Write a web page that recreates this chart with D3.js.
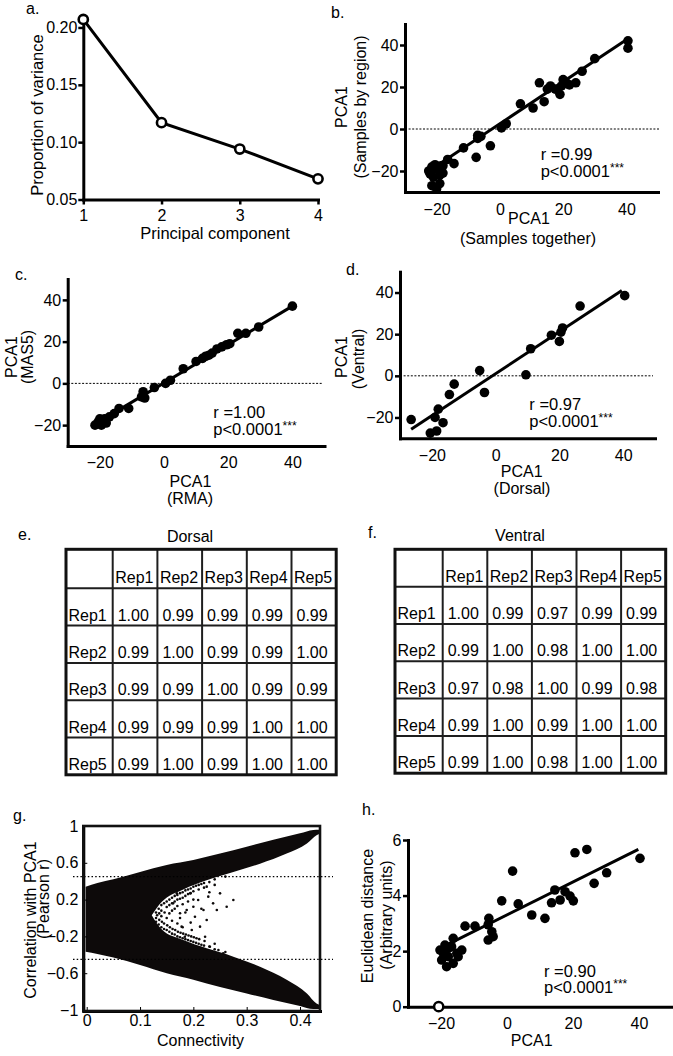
<!DOCTYPE html>
<html><head><meta charset="utf-8">
<script src="https://cdn.jsdelivr.net/npm/d3@7"></script>
<style>
body{margin:0;background:#fff;}
svg{display:block;}
</style></head><body>
<svg id="fig" width="673" height="1056"></svg>
<script>
// ---------------- DATA ----------------
// a. scree plot
const pcIndex = [1, 2, 3, 4];
const pcVariance = [0.207, 0.117, 0.094, 0.068];
const aYTicks = [0.05, 0.10, 0.15, 0.20];

// shared scatter ticks
const pcaTicks = [-20, 0, 20, 40];

// b. PCA1 samples together vs by region
const bTogether = [40.5, 40.5, 30, 26, 24, 20, 19.5, 19, 16, 15, 17.5, 12.5, 14, 10.5, 6.5, 2, 0.5, -3, -6, -7, -7, -7.5, -11.5, -14.5, -16.5, -18.5, -18, -22.5, -21.5, -20, -19, -19, -21.5, -20, -18, -20.5, -22, -21, 22, 21];
const bByRegion = [42, 38.5, 33.5, 27.5, 22, 23.5, 20.5, 16.5, 20.5, 19, 19, 22, 13, 10, 12, 2.5, 0.5, -8, -3.5, -4.5, -3, -13.5, -9, -16.5, -14.5, -17.5, -21, -20, -18, -19, -22, -26, -27, -28.5, -17.5, -17, -21.5, -23, 21, 22];
const bFitX = [-22, 40];
const bFitY = [-19.5, 42.5];

// c. PCA1 RMA vs MAS5
const cRMA = [40, 29.5, 25.5, 23, 19.5, 18, 16.5, 15, 13, 12, 10, 6, 2, 0.5, -3, -6.5, -7, -6, -11, -14, -15.5, -17, -18.5, -18, -20, -20.5, -21.5, -19.5, 20.5, 14];
const cMAS5 = [37, 27, 24, 24, 18.5, 17.5, 16.5, 14.5, 13, 12, 10.5, 7, 1.5, 0, -2, -4, -6.5, -7, -12, -12, -14.5, -16, -17, -19, -17, -18.5, -20, -20, 19, 13.5];
const cFitX = [-22, 40];
const cFitY = [-20, 37];

// d. PCA1 dorsal vs ventral
const dDorsal = [-26.5, -20.5, -18.5, -19, -18, -16.5, -14.5, -13, -5, -3.5, 9.5, 11, 17.5, 20, 21, 20.5, 26.5, 40.5];
const dVentral = [-21, -27.5, -26.5, -20, -16, -22.5, -9, -4, 2.5, -8, 0.5, 13, 19.5, 16.5, 23, 21, 33.5, 38.5];
const dFitX = [-26.5, 39.6];
const dFitY = [-25.7, 41];

// e/f. correlation tables
const reps = ["Rep1", "Rep2", "Rep3", "Rep4", "Rep5"];
const dorsalCorr = [
  [1.00, 0.99, 0.99, 0.99, 0.99],
  [0.99, 1.00, 0.99, 0.99, 1.00],
  [0.99, 0.99, 1.00, 0.99, 0.99],
  [0.99, 0.99, 0.99, 1.00, 1.00],
  [0.99, 1.00, 0.99, 1.00, 1.00]];
const ventralCorr = [
  [1.00, 0.99, 0.97, 0.99, 0.99],
  [0.99, 1.00, 0.98, 1.00, 1.00],
  [0.97, 0.98, 1.00, 0.99, 0.98],
  [0.99, 1.00, 0.99, 1.00, 1.00],
  [0.99, 1.00, 0.98, 1.00, 1.00]];

// g. connectivity vs correlation with PCA1 (cloud envelope)
const gConn      = [-0.002, 0.02, 0.05, 0.10, 0.15, 0.20, 0.25, 0.30, 0.35, 0.40, 0.425, 0.436];
const gTop       = [0.34, 0.38, 0.42, 0.50, 0.576, 0.63, 0.70, 0.775, 0.85, 0.92, 0.956, 0.96];
const gBottom    = [-0.366, -0.39, -0.43, -0.51, -0.60, -0.67, -0.75, -0.82, -0.89, -0.957, -0.99, -0.99];
const gGapConn   = [0.122, 0.14, 0.181, 0.225, 0.275, 0.325, 0.375, 0.413, 0.431, 0.446];
const gGapUpper  = [0.03, 0.17, 0.31, 0.41, 0.50, 0.59, 0.70, 0.81, 0.90, 0.93];
const gGapLower  = [0.03, -0.12, -0.24, -0.33, -0.42, -0.53, -0.67, -0.82, -0.93, -0.96];
// scattered genes inside the gap (connectivity, r)
const gSparse = [
  [0.13,0.06],[0.13,0.0],[0.13,-0.04],[0.132,0.03],
  [0.135,0.1],[0.135,-0.07],[0.136,0.05],[0.136,-0.02],
  [0.14,0.14],[0.14,0.08],[0.14,-0.1],[0.141,-0.04],[0.14,0.02],
  [0.145,0.16],[0.145,-0.12],[0.146,0.06],[0.145,-0.06],
  [0.15,0.18],[0.15,0.12],[0.15,-0.13],[0.151,-0.08],[0.15,0.0],
  [0.155,0.2],[0.155,0.14],[0.155,-0.15],[0.156,-0.1],[0.155,0.05],
  [0.16,0.22],[0.16,0.16],[0.16,-0.17],[0.161,-0.12],[0.16,0.08],[0.16,-0.03],
  [0.165,0.24],[0.165,0.18],[0.165,-0.18],[0.166,-0.13],[0.165,0.1],
  [0.17,0.25],[0.17,0.2],[0.17,-0.2],[0.171,-0.15],[0.17,0.13],[0.17,-0.06],
  [0.175,0.27],[0.175,0.21],[0.175,-0.21],[0.176,-0.16],[0.175,0.0],
  [0.18,0.28],[0.18,0.22],[0.18,-0.22],[0.181,-0.17],[0.18,0.15],[0.18,-0.1],
  [0.185,0.3],[0.185,0.24],[0.185,-0.23],[0.186,-0.18],[0.185,0.06],
  [0.19,0.31],[0.19,0.26],[0.19,-0.24],[0.191,-0.19],[0.19,0.18],
  [0.195,0.32],[0.195,0.27],[0.195,-0.25],[0.196,-0.2],[0.195,-0.05],
  [0.2,0.34],[0.2,0.29],[0.2,-0.26],[0.201,-0.21],[0.2,0.2],
  [0.205,0.35],[0.205,-0.27],[0.206,-0.22],
  [0.21,0.36],[0.21,0.31],[0.21,-0.28],[0.211,-0.23],
  [0.215,0.37],[0.215,-0.29],[0.215,0.1],
  [0.22,0.38],[0.22,0.33],[0.22,-0.3],[0.221,-0.25],
  [0.23,0.39],[0.23,-0.31],[0.23,0.28],
  [0.24,0.42],[0.24,0.36],[0.24,-0.34],[0.24,-0.28],
  [0.26,0.45],[0.26,-0.37],
  [0.162,0.159],[0.169,0.268],[0.175,0.051],[0.178,-0.094],[0.184,-0.203],[0.1875,0.087],
  [0.194,0.268],[0.197,-0.130],[0.200,0.123],[0.203,0.014],[0.209,0.196],[0.2125,-0.094],
  [0.219,0.087],[0.222,-0.203],[0.225,-0.022],[0.228,0.232],[0.231,-0.312],[0.237,0.159],
  [0.244,0.087],[0.247,-0.348],[0.250,0.268],[0.256,-0.384],[0.2625,0.123],[0.275,0.196],
  [0.237,-0.420],[0.250,-0.438],[0.225,0.341]];
const gYTicks = [1, 0.6, 0.2, -0.2, -0.6, -1];
const gYLabels = ["1", "0.6", "0.2", "\u22120.2", "\u22120.6", "\u22121"];
const gXTicks = [0, 0.1, 0.2, 0.3, 0.4];
const gXLabels = ["0", "0.1", "0.2", "0.3", "0.4"];
const gThreshold = [0.45, -0.45];

// h. PCA1 vs Euclidean distance
const hPCA1 = [40.3, 24.2, 20.6, 30.2, 26.4, 20.1, 19.1, 17.6, 16.1, 14.5, 13.5, 11.5, 7.5, 3.4, 1.7, -1.6, -4.6, -4.2, -5.5, -5.7, -5.7, -9.7, -12.7, -13.7, -14.8, -16.3, -16.8, -16.3, -17.8, -18.3, -19.3, -18.8, -20.3, -19.8, -17.8, -15.2];
const hDist = [5.34, 5.66, 5.54, 4.82, 4.44, 3.81, 3.98, 4.14, 3.84, 4.2, 3.74, 3.18, 3.3, 3.7, 4.88, 3.81, 2.7, 2.52, 3.18, 2.95, 2.4, 2.9, 2.9, 2.04, 1.8, 2.46, 2.16, 1.56, 1.8, 1.44, 1.92, 2.22, 2.04, 1.68, 2.1, 1.92];
const hOpenX = [-20.7];
const hOpenY = [0];
const hFitX = [-19.3, 39.8];
const hFitY = [2.16, 5.66];
const hYTicks = [0, 2, 4, 6];

// ---------------- DRAWING ----------------
const FF = '"Liberation Sans", Arial, Helvetica, sans-serif';
const FS = 16;
const svg = d3.select("#fig").attr("font-family", FF);

function addText(t, x, y, o = {}) {
  const el = svg.append("text").attr("x", x).attr("y", y).text(t)
    .attr("font-size", o.size || FS).attr("fill", "#000")
    .attr("text-anchor", o.anchor || "start");
  if (o.dy) el.attr("dy", o.dy);
  if (o.rotate) el.attr("transform", `rotate(-90,${x},${y})`);
  return el;
}
function styleAxis(g, w) {
  g.select(".domain").attr("stroke", "#000").attr("stroke-width", w || 3).attr("stroke-linecap", "square");
  g.selectAll(".tick line").attr("stroke", "#000").attr("stroke-width", 2.5);
  g.selectAll(".tick text").attr("font-size", FS).attr("fill", "#000").attr("font-family", FF);
}
function stats(x, yb1, yb2, rTxt) {
  addText(rTxt, x, yb1, { size: 16.5 });
  const t = addText("p<0.0001", x, yb2, { size: 16.5 });
  t.append("tspan").attr("font-size", 12).attr("dy", -5).text("***");
}

// ----- panel a -----
(function () {
  const x = d3.scaleLinear().domain([1, 4]).range([83.3, 318]);
  const y = d3.scaleLinear().domain([0.05, 0.21]).range([199.5, 16]);
  const ax = svg.append("g").attr("transform", `translate(0,${y(0.05)})`)
    .call(d3.axisBottom(x).tickValues(pcIndex).tickFormat(d3.format("d")).tickSize(5).tickPadding(5).tickSizeOuter(0));
  styleAxis(ax);
  const ay = svg.append("g").attr("transform", `translate(${x(1)},0)`)
    .call(d3.axisLeft(y).tickValues(aYTicks).tickFormat(d3.format(".2f")).tickSize(5).tickPadding(1).tickSizeOuter(0));
  styleAxis(ay);
  svg.append("path").datum(pcIndex)
    .attr("d", d3.line().x(d => x(d)).y((d, i) => y(pcVariance[i])))
    .attr("fill", "none").attr("stroke", "#000").attr("stroke-width", 3);
  svg.selectAll("circle.a").data(pcIndex).join("circle").attr("class", "a")
    .attr("cx", d => x(d)).attr("cy", (d, i) => y(pcVariance[i])).attr("r", 4.6)
    .attr("fill", "#fff").attr("stroke", "#000").attr("stroke-width", 2.6);
  addText("Proportion of variance", 37, 115, { anchor: "middle", rotate: true, dy: "0.35em", size: 16.5 });
  addText("Principal component", 215, 233, { anchor: "middle", dy: "0.35em", size: 16.5 });
  addText("a.", 26, 14, { size: 16 });
})();

// ----- scatter panels b, c, d, h -----
function scatterPanel(o) {
  const x = d3.scaleLinear().domain(o.xDomain).range(o.xRange);
  const y = d3.scaleLinear().domain(o.yDomain).range(o.yRange);
  if (o.zero) {
    svg.append("line").attr("x1", x(o.xDomain[0])).attr("x2", o.zeroEnd)
      .attr("y1", y(0)).attr("y2", y(0)).attr("stroke", "#000")
      .attr("stroke-width", 1).attr("stroke-dasharray", "2,1.6");
  }
  svg.append("path").datum(o.fitX)
    .attr("d", d3.line().x(d => x(d)).y((d, i) => y(o.fitY[i])))
    .attr("stroke", "#000").attr("stroke-width", 3).attr("fill", "none");
  svg.append("g").selectAll("circle").data(o.xs).join("circle")
    .attr("cx", d => x(d)).attr("cy", (d, i) => y(o.ys[i])).attr("r", 4.8).attr("fill", "#000");
  const ax = svg.append("g").attr("transform", `translate(0,${y(o.yDomain[0])})`)
    .call(d3.axisBottom(x).tickValues(pcaTicks).tickFormat(d3.format("d")).tickSize(0).tickPadding(o.xPad).tickSizeOuter(0));
  styleAxis(ax);
  const ay = svg.append("g").attr("transform", `translate(${x(o.xDomain[0])},0)`)
    .call(d3.axisLeft(y).tickValues(o.yTicks).tickFormat(d3.format("d")).tickSize(5).tickPadding(1.5).tickSizeOuter(0));
  styleAxis(ay);
  if (o.openX) {
    svg.append("g").selectAll("circle").data(o.openX).join("circle")
      .attr("cx", d => x(d)).attr("cy", (d, i) => y(o.openY[i])).attr("r", 4.6)
      .attr("fill", "#fff").attr("stroke", "#000").attr("stroke-width", 2.5);
  }
}

// b
scatterPanel({ xDomain: [-30, 50], xRange: [405, 658], yDomain: [-30, 50], yRange: [192, 24],
  xs: bTogether, ys: bByRegion, fitX: bFitX, fitY: bFitY, zero: true, zeroEnd: 660,
  yTicks: pcaTicks, xPad: 12 });
addText("PCA1", 341, 107, { anchor: "middle", rotate: true, dy: "0.35em" });
addText("(Samples by region)", 360, 107, { anchor: "middle", rotate: true, dy: "0.35em" });
addText("PCA1", 529, 218, { anchor: "middle", dy: "0.35em" });
addText("(Samples together)", 528, 238, { anchor: "middle", dy: "0.35em" });
stats(540.7, 160, 177, "r =0.99");
addText("b.", 331, 18);

// c
scatterPanel({ xDomain: [-30, 50], xRange: [67.7, 324.5], yDomain: [-30, 50], yRange: [446, 279],
  xs: cRMA, ys: cMAS5, fitX: cFitX, fitY: cFitY, zero: true, zeroEnd: 322,
  yTicks: pcaTicks, xPad: 11 });
addText("PCA1", 11, 357, { anchor: "middle", rotate: true, dy: "0.35em" });
addText("(MAS5)", 27, 357, { anchor: "middle", rotate: true, dy: "0.35em" });
addText("PCA1", 190.5, 481.5, { anchor: "middle", dy: "0.35em" });
addText("(RMA)", 190, 498, { anchor: "middle", dy: "0.35em" });
stats(213.3, 418.3, 435, "r =1.00");
addText("c.", 15, 280);

// d
scatterPanel({ xDomain: [-30, 50], xRange: [400, 655], yDomain: [-30, 50], yRange: [438.3, 271.7],
  xs: dDorsal, ys: dVentral, fitX: dFitX, fitY: dFitY, zero: true, zeroEnd: 653,
  yTicks: pcaTicks, xPad: 11 });
addText("PCA1", 341, 357, { anchor: "middle", rotate: true, dy: "0.35em" });
addText("(Ventral)", 358, 359, { anchor: "middle", rotate: true, dy: "0.35em" });
addText("PCA1", 521.7, 471.7, { anchor: "middle", dy: "0.35em" });
addText("(Dorsal)", 522, 488.5, { anchor: "middle", dy: "0.35em" });
stats(529.3, 410, 426.7, "r =0.97");
addText("d.", 346, 275);

// h
scatterPanel({ xDomain: [-30, 50], xRange: [408, 672], yDomain: [0, 6], yRange: [1006.7, 840],
  xs: hPCA1, ys: hDist, fitX: hFitX, fitY: hFitY, zero: false,
  yTicks: hYTicks, xPad: 11, openX: hOpenX, openY: hOpenY });
addText("Euclidean distance", 367.5, 916, { anchor: "middle", rotate: true, dy: "0.35em" });
addText("(Arbitrary units)", 386, 915, { anchor: "middle", rotate: true, dy: "0.35em" });
addText("PCA1", 531.7, 1040, { anchor: "middle", dy: "0.35em" });
stats(544, 976.7, 993.3, "r =0.90");
addText("h.", 362, 815);

// ----- tables e, f -----
function drawTable(o) {
  const nCols = reps.length + 1;
  const colEdges = d3.range(nCols + 1).map(i => i === 0 ? o.left : o.left + o.firstW + (i - 1) * o.colW);
  const rowEdges = d3.range(reps.length + 2).map(i => i === 0 ? o.top : o.top + o.headH + (i - 1) * o.rowH);
  const g = svg.append("g");
  const right = colEdges[nCols], bottom = rowEdges[reps.length + 1];
  const cells = [];
  reps.forEach((r, j) => cells.push({ row: 0, col: j + 1, t: r, lab: true }));
  reps.forEach((r, i) => {
    cells.push({ row: i + 1, col: 0, t: r, lab: true });
    o.values[i].forEach((v, j) => cells.push({ row: i + 1, col: j + 1, t: v.toFixed(2), lab: false }));
  });
  g.selectAll("text").data(cells).join("text")
    .attr("x", d => colEdges[d.col] + (d.lab ? 2.5 : 5))
    .attr("y", d => rowEdges[d.row + 1] - 5)
    .attr("font-size", FS).attr("fill", "#000").text(d => d.t);
  g.selectAll("line.v").data(colEdges.slice(1, -1)).join("line").attr("class", "v")
    .attr("x1", d => d).attr("x2", d => d).attr("y1", o.top).attr("y2", bottom)
    .attr("stroke", "#1e1e1e").attr("stroke-width", 2);
  g.selectAll("line.h").data(rowEdges.slice(1, -1)).join("line").attr("class", "h")
    .attr("y1", d => d).attr("y2", d => d).attr("x1", o.left).attr("x2", right)
    .attr("stroke", "#1e1e1e").attr("stroke-width", 2);
  g.append("rect").attr("x", o.left).attr("y", o.top).attr("width", right - o.left).attr("height", bottom - o.top)
    .attr("fill", "none").attr("stroke", "#111").attr("stroke-width", 3);
  addText(o.title, o.titleX, o.titleY, { anchor: "middle" });
  addText(o.label, o.labelX, o.labelY);
}
drawTable({ left: 66, top: 549.3, firstW: 46.7, colW: 44.7, headH: 39, rowH: 37.3, values: dorsalCorr,
  title: "Dorsal", titleX: 190, titleY: 541.7, label: "e.", labelX: 18, labelY: 540 });
drawTable({ left: 395, top: 549.3, firstW: 47.7, colW: 44.6, headH: 37.4, rowH: 37.3, values: ventralCorr,
  title: "Ventral", titleX: 520, titleY: 540.7, label: "f.", labelX: 368, labelY: 538 });

// ----- panel g -----
(function () {
  const x = d3.scaleLinear().domain([-0.0064, 0.4375]).range([83.3, 320]);
  const y = d3.scaleLinear().domain([-1, 1]).range([1010, 826]);
  svg.append("path").datum(gConn)
    .attr("d", d3.area().curve(d3.curveMonotoneX).x(d => x(d)).y0((d, i) => y(gBottom[i])).y1((d, i) => y(gTop[i])))
    .attr("fill", "#0d0a0a");
  svg.append("path").datum(gGapConn)
    .attr("d", d3.area().curve(d3.curveMonotoneX).x(d => x(d)).y0((d, i) => y(gGapLower[i])).y1((d, i) => y(gGapUpper[i])))
    .attr("fill", "#fff");
  svg.append("g").selectAll("circle").data(gSparse).join("circle")
    .attr("cx", d => x(d[0])).attr("cy", d => y(d[1])).attr("r", 1.3).attr("fill", "#0d0a0a");
  svg.append("g").selectAll("line").data(gThreshold).join("line")
    .attr("x1", 73).attr("x2", 333).attr("y1", d => y(d)).attr("y2", d => y(d))
    .attr("stroke", "#000").attr("stroke-width", 1.2).attr("stroke-dasharray", "1.5,2.2");
  const ax = svg.append("g").attr("transform", `translate(0,1011)`)
    .call(d3.axisBottom(x).tickValues(gXTicks).tickFormat((d, i) => gXLabels[i]).tickSize(-4).tickPadding(4).tickSizeOuter(0));
  styleAxis(ax, 0);
  ax.selectAll(".tick line").attr("stroke-width", 1);
  const ay = svg.append("g").attr("transform", `translate(83.3,0)`)
    .call(d3.axisLeft(y).tickValues(gYTicks).tickFormat((d, i) => gYLabels[i]).tickSize(-4).tickPadding(5).tickSizeOuter(0));
  styleAxis(ay, 0);
  ay.selectAll(".tick line").attr("stroke-width", 1);
  svg.append("rect").attr("x", 83.3).attr("y", 826).attr("width", 320 - 83.3).attr("height", 1011 - 826)
    .attr("fill", "none").attr("stroke", "#111").attr("stroke-width", 2.6);
  addText("Correlation with PCA1", 30, 920, { anchor: "middle", rotate: true, dy: "0.35em" });
  addText("(Pearson r)", 43, 899, { anchor: "middle", rotate: true, dy: "0.35em" });
  addText("Connectivity", 200.5, 1040, { anchor: "middle", dy: "0.35em" });
  addText("g.", 13, 821);
})();
</script>
</body></html>
